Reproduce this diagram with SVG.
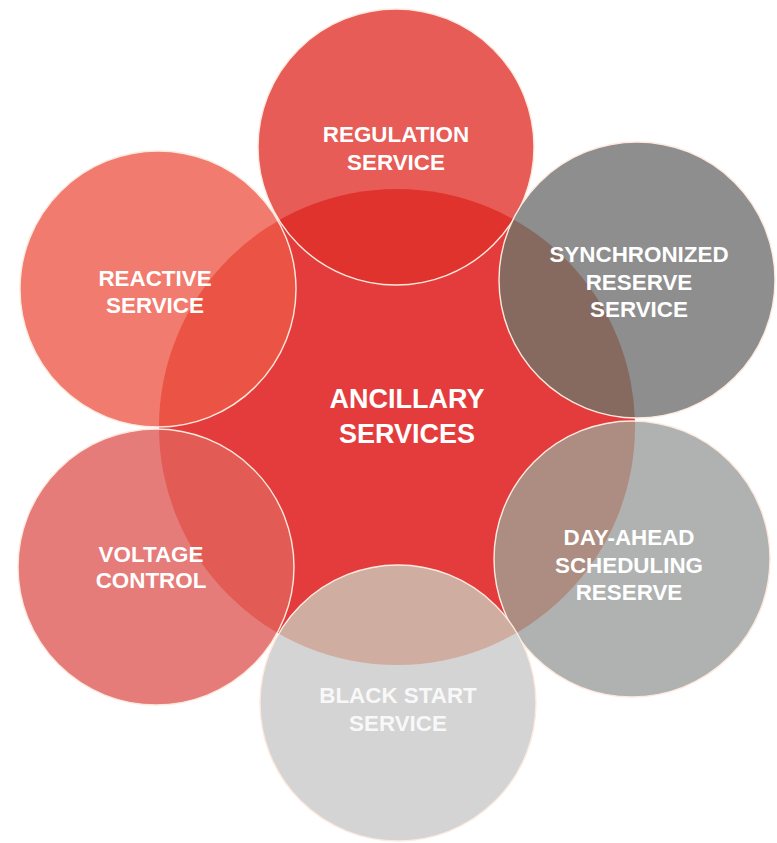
<svg xmlns="http://www.w3.org/2000/svg" width="777" height="843" viewBox="0 0 777 843">
  <style>
    .label { font-family: "Liberation Sans", Arial, sans-serif; font-weight: bold; fill: #ffffff; text-anchor: middle; }
    .outer { font-size: 22.4px; }
    .core { font-size: 27px; }
    .ring { fill: none; stroke: #fde9de; stroke-width: 1.4; }
  </style>
  <defs>
    <clipPath id="clip-regulation"><circle cx="396" cy="147" r="138"/></clipPath>
    <clipPath id="clip-synchronized"><circle cx="637" cy="280" r="138"/></clipPath>
    <clipPath id="clip-dayahead"><circle cx="632" cy="559" r="138"/></clipPath>
    <clipPath id="clip-blackstart"><circle cx="398" cy="703" r="138"/></clipPath>
    <clipPath id="clip-voltage"><circle cx="156" cy="567" r="138"/></clipPath>
    <clipPath id="clip-reactive"><circle cx="158" cy="289" r="138"/></clipPath>
    <circle id="core-disc" cx="397" cy="427" r="238"/>
  </defs>

  <rect width="777" height="843" fill="#ffffff"/>

  <!-- central hub -->
  <g id="ancillary-services">
    <use href="#core-disc" fill="#e43c3c"/>
  </g>

  <!-- surrounding service circles: base fill, tinted overlap with the hub, rim -->
  <g id="regulation-service">
    <circle cx="396" cy="147" r="138" fill="#e75c56"/>
    <use href="#core-disc" fill="#e0332d" clip-path="url(#clip-regulation)"/>
    <circle class="ring" cx="396" cy="147" r="138"/>
  </g>

  <g id="synchronized-reserve-service">
    <circle cx="637" cy="280" r="138" fill="#8e8e8e"/>
    <use href="#core-disc" fill="#86695f" clip-path="url(#clip-synchronized)"/>
    <circle class="ring" cx="637" cy="280" r="138"/>
  </g>

  <g id="day-ahead-scheduling-reserve">
    <circle cx="632" cy="559" r="138" fill="#b0b2b1"/>
    <use href="#core-disc" fill="#ad8c82" clip-path="url(#clip-dayahead)"/>
    <circle class="ring" cx="632" cy="559" r="138"/>
  </g>

  <g id="black-start-service">
    <circle cx="398" cy="703" r="138" fill="#d5d4d5"/>
    <use href="#core-disc" fill="#d0ada1" clip-path="url(#clip-blackstart)"/>
    <circle class="ring" cx="398" cy="703" r="138"/>
  </g>

  <g id="voltage-control">
    <circle cx="156" cy="567" r="138" fill="#e57c79"/>
    <use href="#core-disc" fill="#e25b55" clip-path="url(#clip-voltage)"/>
    <circle class="ring" cx="156" cy="567" r="138"/>
  </g>

  <g id="reactive-service">
    <circle cx="158" cy="289" r="138" fill="#f17b6e"/>
    <use href="#core-disc" fill="#eb5444" clip-path="url(#clip-reactive)"/>
    <circle class="ring" cx="158" cy="289" r="138"/>
  </g>

  <!-- labels -->
  <g id="labels">
    <text class="label core" x="407" y="408">ANCILLARY</text>
    <text class="label core" x="407" y="443">SERVICES</text>

    <text class="label outer" x="396" y="142">REGULATION</text>
    <text class="label outer" x="396" y="170">SERVICE</text>

    <text class="label outer" x="639" y="262">SYNCHRONIZED</text>
    <text class="label outer" x="639" y="290">RESERVE</text>
    <text class="label outer" x="639" y="317">SERVICE</text>

    <text class="label outer" x="629" y="545">DAY-AHEAD</text>
    <text class="label outer" x="629" y="573">SCHEDULING</text>
    <text class="label outer" x="629" y="600">RESERVE</text>

    <text class="label outer" x="398" y="703" fill-opacity="0.85">BLACK START</text>
    <text class="label outer" x="398" y="731" fill-opacity="0.85">SERVICE</text>

    <text class="label outer" x="151" y="562">VOLTAGE</text>
    <text class="label outer" x="151" y="588">CONTROL</text>

    <text class="label outer" x="155" y="286">REACTIVE</text>
    <text class="label outer" x="155" y="313">SERVICE</text>
  </g>
</svg>
